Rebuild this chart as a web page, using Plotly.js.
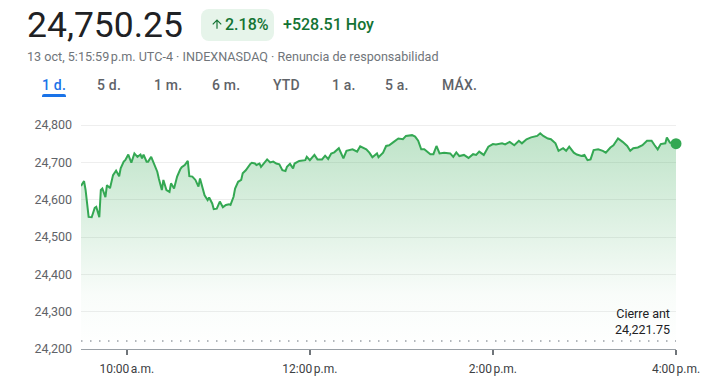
<!DOCTYPE html>
<html>
<head>
<meta charset="utf-8">
<script src="https://cdn.plot.ly/plotly-3.0.1.min.js"></script>
<style>
  html, body { margin:0; padding:0; background:#fff; }
  #wrap { position:relative; width:709px; height:388px; overflow:hidden; font-family:Roboto, Arial, sans-serif; }
  #chart { position:absolute; left:0; top:0; width:709px; height:388px; }
  .h { position:absolute; z-index:5; white-space:nowrap; pointer-events:none; }
  .tab { position:absolute; z-index:5; top:76px; font-size:14px; font-weight:500; color:#5f6368; line-height:18px; letter-spacing:0.2px; }
</style>
</head>
<body>
<div id="wrap">
  <div id="chart"></div>
  <div class="h" style="left:27px; top:4px; font-size:35.5px; color:#202124; line-height:42px;">24,750.25</div>
  <div class="h" style="left:201px; top:9px; width:73px; height:32px; border-radius:8px; background:#e6f4ea;"></div>
  <svg class="h" style="left:210px; top:17px;" width="14" height="14" viewBox="0 0 24 24"><path fill="#137333" d="M4 12l1.41 1.41L11 7.83V20h2V7.83l5.58 5.59L20 12l-8-8-8 8z"/></svg>
  <div class="h" style="left:225px; top:14px; font-size:16px; font-weight:500; color:#137333; line-height:22px;">2.18%</div>
  <div class="h" style="left:283px; top:14px; font-size:16px; font-weight:500; color:#137333; line-height:22px;">+528.51 Hoy</div>
  <div class="h" style="left:27px; top:49px; font-size:12.6px; color:#70757a; line-height:16px;">13 oct, 5:15:59&#8239;p.m. UTC-4 · INDEXNASDAQ · Renuncia de responsabilidad</div>
  <div class="tab" style="left:42px; color:#1a73e8;">1 d.</div>
  <div class="h" style="left:42px; top:94px; width:24px; height:3px; border-radius:2px 2px 0 0; background:#1a73e8;"></div>
  <div class="tab" style="left:97px;">5 d.</div>
  <div class="tab" style="left:154px;">1 m.</div>
  <div class="tab" style="left:212px;">6 m.</div>
  <div class="tab" style="left:273px;">YTD</div>
  <div class="tab" style="left:332px;">1 a.</div>
  <div class="tab" style="left:385px;">5 a.</div>
  <div class="tab" style="left:442px;">MÁX.</div>
</div>
<script>
const sessionDate = "2025-10-13";
const times = [
  "09:30","09:32","09:33","09:35","09:37","09:39","09:40","09:42","09:43","09:44",
  "09:46","09:47","09:49","09:51","09:53","09:55","09:56","09:58","09:59","10:01",
  "10:03","10:05","10:07","10:09","10:10","10:11","10:13","10:14","10:16","10:18",
  "10:20","10:21","10:23","10:24","10:26","10:28","10:29","10:31","10:33","10:35",
  "10:36","10:38","10:40","10:41","10:43","10:45","10:47","10:48","10:50","10:51",
  "10:53","10:54","10:56","10:57","10:59","11:00","11:01","11:03","11:05","11:07",
  "11:08","11:10","11:11","11:13","11:15","11:16","11:18","11:21","11:22","11:24",
  "11:25","11:27","11:28","11:32","11:34","11:36","11:38","11:40","11:42","11:44",
  "11:45","11:47","11:49","11:50","11:53","11:57","11:58","12:00","12:03","12:05",
  "12:08","12:10","12:12","12:14","12:16","12:19","12:22","12:24","12:26","12:28",
  "12:31","12:33","12:37","12:39","12:41","12:44","12:45","12:48","12:50","12:52",
  "12:55","12:58","13:01","13:03","13:07","13:09","13:11","13:13","13:15","13:19",
  "13:21","13:23","13:25","13:28","13:32","13:34","13:36","13:38","13:41","13:44",
  "13:47","13:49","13:51","13:54","13:57","14:00","14:02","14:06","14:08","14:11",
  "14:14","14:17","14:19","14:22","14:25","14:29","14:31","14:33","14:36","14:38",
  "14:41","14:43","14:46","14:48","14:50","14:53","14:55","14:58","15:00","15:02",
  "15:04","15:06","15:09","15:12","15:14","15:17","15:19","15:22","15:25","15:28",
  "15:30","15:32","15:35","15:38","15:41","15:44","15:46","15:48","15:50","15:53",
  "15:54","15:56","16:00"
];
const prices = [
  24637,24650,24626,24554,24553,24578,24581,24553,24626,24630,
  24607,24639,24631,24666,24678,24663,24684,24702,24706,24721,
  24699,24724,24715,24721,24711,24721,24702,24702,24715,24693,
  24675,24657,24626,24653,24626,24621,24644,24630,24662,24681,
  24687,24693,24704,24663,24662,24653,24635,24657,24626,24612,
  24599,24606,24590,24575,24576,24586,24595,24580,24586,24588,
  24586,24608,24630,24648,24653,24671,24679,24696,24699,24697,
  24693,24697,24688,24708,24700,24702,24697,24695,24679,24677,
  24688,24696,24684,24697,24704,24706,24715,24706,24720,24708,
  24708,24718,24709,24724,24727,24738,24711,24731,24733,24735,
  24729,24743,24735,24726,24714,24724,24714,24726,24744,24746,
  24755,24764,24762,24771,24773,24769,24758,24735,24735,24722,
  24722,24744,24724,24726,24724,24715,24727,24717,24720,24712,
  24722,24720,24729,24720,24742,24749,24748,24751,24748,24755,
  24746,24758,24751,24762,24767,24771,24778,24771,24764,24762,
  24751,24731,24738,24731,24742,24726,24721,24717,24720,24706,
  24708,24733,24735,24731,24726,24740,24746,24764,24755,24744,
  24731,24738,24740,24746,24758,24758,24746,24735,24749,24751,
  24767,24753,24750.25
];
const previousClose = 24221.75;
const yTicks = [24200,24300,24400,24500,24600,24700,24800];
const yTickText = ["24,200","24,300","24,400","24,500","24,600","24,700","24,800"];
const xTickTimes = ["10:00","12:00","14:00","16:00"];
const xTickText = ["10:00\u202fa.m.","12:00\u202fp.m.","2:00\u202fp.m.","4:00\u202fp.m."];

const xs = times.map(t => sessionDate + " " + t);
const green = "#34a853";

const traces = [
  {
    x: xs, y: prices, type: "scatter", mode: "lines",
    line: {color: green, width: 2},
    fill: "tozeroy",
    fillgradient: {type: "vertical", start: 24200, stop: 24780,
      colorscale: [[0, "rgba(52,168,83,0)"], [0.25, "rgba(52,168,83,0.03)"], [1, "rgba(52,168,83,0.32)"]]},
    hoverinfo: "skip"
  },
  {
    x: [xs[xs.length-1]], y: [prices[prices.length-1]], type: "scatter", mode: "markers",
    marker: {color: green, size: 11}, cliponaxis: false, hoverinfo: "skip"
  }
];

const layout = {
  width: 709, height: 388,
  margin: {l: 81, r: 33, t: 115, b: 39},
  paper_bgcolor: "#fff", plot_bgcolor: "#fff",
  showlegend: false,
  font: {family: "Roboto, Arial, sans-serif"},
  xaxis: {
    type: "date",
    range: [sessionDate + " 09:30", sessionDate + " 16:00"],
    tickvals: xTickTimes.map(t => sessionDate + " " + t),
    ticktext: xTickText,
    showgrid: false, zeroline: false,
    showline: true, linecolor: "#9aa0a6", linewidth: 1,
    ticks: "outside", ticklen: 5, tickwidth: 2, tickcolor: "#70757a",
    tickfont: {size: 12, color: "#3c4043"},
    ticklabelstandoff: 4,
    fixedrange: true
  },
  yaxis: {
    range: [24200, 24827],
    tickvals: yTicks, ticktext: yTickText,
    showgrid: true, gridcolor: "#eeeeee", gridwidth: 1,
    zeroline: false, showline: false, ticks: "",
    tickfont: {size: 12.5, color: "#5f6368"},
    ticklabelstandoff: 8,
    fixedrange: true
  },
  shapes: [
    {type: "line", xref: "paper", x0: 0, x1: 1, yref: "y", y0: previousClose, y1: previousClose,
     line: {color: "#9aa0a6", width: 1.5, dash: "1.5px,7.5px"}}
  ],
  annotations: [
    {xref: "paper", x: 1, yref: "y", y: previousClose, xanchor: "right", yanchor: "bottom",
     xshift: -4, yshift: 2, showarrow: false, align: "right",
     text: "Cierre ant<br>24,221.75", font: {size: 12.5, color: "#202124"}}
  ]
};

Plotly.newPlot("chart", traces, layout, {displayModeBar: false, staticPlot: true});
</script>
</body>
</html>
